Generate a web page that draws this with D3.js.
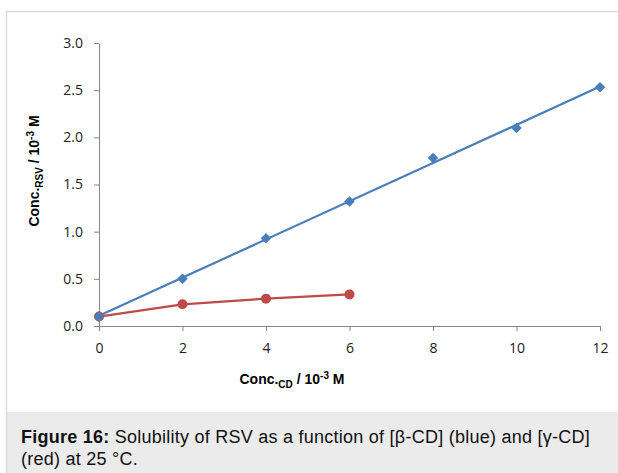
<!DOCTYPE html>
<html>
<head>
<meta charset="utf-8">
<script src="https://cdn.jsdelivr.net/npm/d3@7"></script>
<style>
  body { margin: 0; background: #fff; }
  svg text { font-family: "Liberation Sans", Arial, sans-serif; }
</style>
</head>
<body>
<div id="chart"></div>
<script>
// data
const concCD = [0, 2, 4, 6, 8, 10, 12];
const betaCD = [0.10, 0.50, 0.93, 1.32, 1.78, 2.10, 2.53];
const concCDgamma = [0, 2, 4, 6];
const gammaCD = [0.10, 0.23, 0.29, 0.335];
const xTicks = [0, 2, 4, 6, 8, 10, 12];
const yTicks = [0, 0.5, 1.0, 1.5, 2.0, 2.5, 3.0];

const width = 618;
const height = 473;

const svg = d3.select("#chart")
  .append("svg")
  .attr("width", width)
  .attr("height", height);

// frame and caption panel
svg.append("rect")
  .attr("x", 7).attr("y", 412)
  .attr("width", width - 7).attr("height", height - 412)
  .attr("fill", "#ebebeb");
svg.append("line")
  .attr("x1", 6.5).attr("x2", 6.5).attr("y1", 11.5).attr("y2", height)
  .attr("stroke", "#dcdcdc").attr("stroke-width", 1.5);
svg.append("line")
  .attr("x1", 6).attr("x2", width).attr("y1", 11.5).attr("y2", 11.5)
  .attr("stroke", "#dcdcdc").attr("stroke-width", 1.5);

const x = d3.scaleLinear().domain([0, 12]).range([99, 600]);
const y = d3.scaleLinear().domain([0, 3]).range([326, 43]);

const axisColor = "#868686";
const tickFont = "'Open Sans', sans-serif";

// y axis
const yAxis = svg.append("g")
  .attr("transform", "translate(99,0)")
  .call(d3.axisLeft(y).tickValues(yTicks).tickFormat(d3.format(".1f")).tickSize(5).tickSizeOuter(0));
yAxis.select(".domain").attr("stroke", axisColor);
yAxis.selectAll(".tick line").attr("stroke", axisColor);
yAxis.selectAll(".tick text")
  .attr("x", -16)
  .attr("fill", "#222")
  .style("font-family", tickFont)
  .style("font-size", "14px");

// x axis
const xAxis = svg.append("g")
  .attr("transform", "translate(0,326)")
  .call(d3.axisBottom(x).tickValues(xTicks).tickSize(5).tickSizeOuter(0));
xAxis.select(".domain").attr("stroke", axisColor);
xAxis.selectAll(".tick line").attr("stroke", axisColor);
xAxis.selectAll(".tick text")
  .attr("y", 27)
  .attr("dy", 0)
  .attr("fill", "#222")
  .style("font-family", tickFont)
  .style("font-size", "14px");

// axis titles
const yTitle = svg.append("text")
  .attr("transform", "translate(39,171) rotate(-90)")
  .attr("text-anchor", "middle")
  .style("font-size", "14px")
  .style("font-weight", "bold");
yTitle.append("tspan").text("Conc.");
yTitle.append("tspan").attr("dy", 4).style("font-size", "10px").text("RSV");
yTitle.append("tspan").attr("dy", -4).text(" / 10");
yTitle.append("tspan").attr("dy", -5).style("font-size", "10px").text("-3");
yTitle.append("tspan").attr("dy", 5).text(" M");

const xTitle = svg.append("text")
  .attr("x", 292).attr("y", 384)
  .attr("text-anchor", "middle")
  .style("font-size", "14px")
  .style("font-weight", "bold");
xTitle.append("tspan").text("Conc.");
xTitle.append("tspan").attr("dy", 4).style("font-size", "10px").text("CD");
xTitle.append("tspan").attr("dy", -4).text(" / 10");
xTitle.append("tspan").attr("dy", -5).style("font-size", "10px").text("-3");
xTitle.append("tspan").attr("dy", 5).text(" M");

const blue = "#4a7ebb";
const red = "#be4b48";

// beta-CD: linear trendline through the points
const mx = d3.mean(concCD), my = d3.mean(betaCD);
const slope = d3.sum(concCD, (v, i) => (v - mx) * (betaCD[i] - my)) /
  d3.sum(concCD, v => (v - mx) * (v - mx));
const icpt = my - slope * mx;
svg.append("line")
  .attr("x1", x(0)).attr("y1", y(icpt))
  .attr("x2", x(12)).attr("y2", y(icpt + slope * 12))
  .attr("stroke", blue).attr("stroke-width", 2.2);

svg.append("g")
  .selectAll("path")
  .data(concCD)
  .enter().append("path")
  .attr("d", d3.symbol().type(d3.symbolDiamond2).size(70))
  .attr("transform", (d, i) => `translate(${x(d)},${y(betaCD[i])})`)
  .attr("fill", blue);

// gamma-CD: connected points
const line = d3.line()
  .x(d => x(d))
  .y((d, i) => y(gammaCD[i]));
svg.append("path")
  .attr("d", line(concCDgamma))
  .attr("fill", "none")
  .attr("stroke", red)
  .attr("stroke-width", 2.2);

svg.append("g")
  .selectAll("circle")
  .data(concCDgamma)
  .enter().append("circle")
  .attr("cx", d => x(d))
  .attr("cy", (d, i) => y(gammaCD[i]))
  .attr("r", 5)
  .attr("fill", red);

// blue marker at origin sits on top of the red one
svg.append("path")
  .attr("d", d3.symbol().type(d3.symbolDiamond2).size(70))
  .attr("transform", `translate(${x(concCD[0])},${y(betaCD[0])})`)
  .attr("fill", blue);

// caption
const cap = svg.append("text")
  .attr("x", 21).attr("y", 443)
  .style("font-size", "18px")
  .attr("fill", "#111");
cap.append("tspan").style("font-weight", "bold").text("Figure 16:");
cap.append("tspan").text(" Solubility of RSV as a function of [β-CD] (blue) and [γ-CD]");
const cap2 = svg.append("text")
  .attr("x", 21).attr("y", 465)
  .style("font-size", "18px")
  .attr("fill", "#111")
  .text("(red) at 25 °C.");

// stretch the caption a little to match the original's wider rendering
const capLen = cap.node().getComputedTextLength();
const chars = cap.text().length;
const ls = Math.max(0, (569 - capLen) / chars);
cap.style("letter-spacing", ls + "px");
cap2.style("letter-spacing", ls + "px");
</script>
</body>
</html>
